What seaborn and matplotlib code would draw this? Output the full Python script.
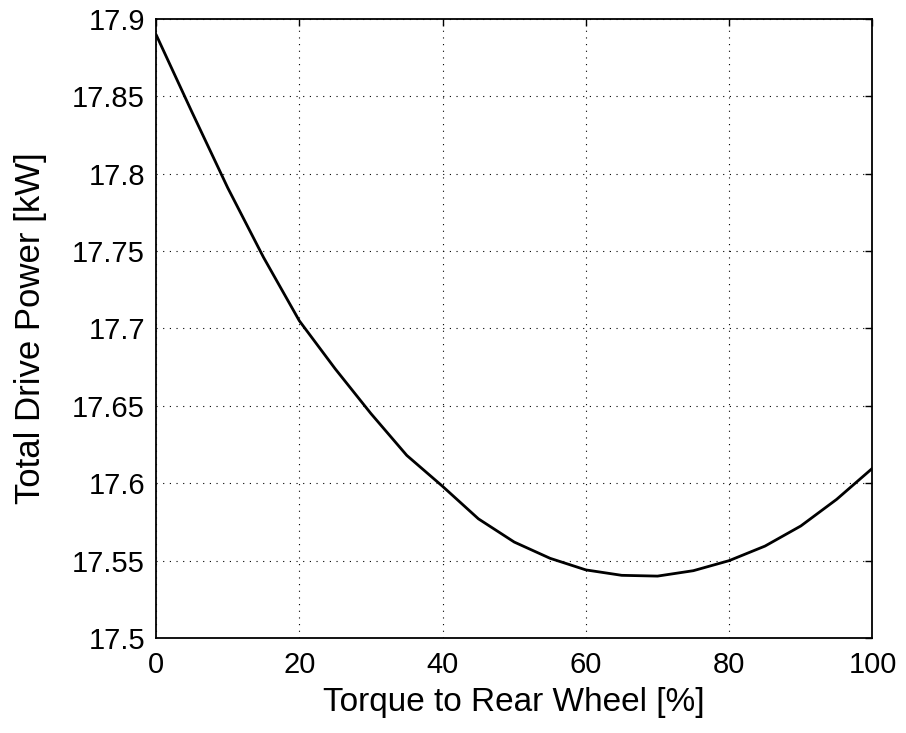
import pandas as pd
import matplotlib
matplotlib.use('Agg')
import matplotlib.pyplot as plt
import seaborn as sns

# torque split to rear wheel [%] and resulting total drive power [kW]
torque_rear = [0, 5, 10, 15, 20, 25, 30, 35, 40, 45, 50,
               55, 60, 65, 70, 75, 80, 85, 90, 95, 100]
drive_power = [17.890, 17.840, 17.791, 17.746, 17.705, 17.674, 17.645,
               17.618, 17.598, 17.577, 17.562, 17.5515, 17.544, 17.5405,
               17.540, 17.5435, 17.550, 17.5594, 17.5724, 17.5896, 17.6097]

x_ticks = [0, 20, 40, 60, 80, 100]
y_ticks = [17.5, 17.55, 17.6, 17.65, 17.7, 17.75, 17.8, 17.85, 17.9]

df = pd.DataFrame({'torque': torque_rear, 'power': drive_power})

sns.set_style('white')
plt.rcParams['font.family'] = ['Liberation Sans', 'DejaVu Sans']
plt.rcParams['text.color'] = 'black'
plt.rcParams['axes.labelcolor'] = 'black'

fig = plt.figure(figsize=(9.06, 7.33), dpi=100)
ax = fig.add_axes([0.1722, 0.1296, 0.7908, 0.8445])

sns.lineplot(data=df, x='torque', y='power', color='black', linewidth=2.0, ax=ax)

ax.set_xlim(0, 100)
ax.set_ylim(17.5, 17.9)
ax.set_xticks(x_ticks)
ax.set_yticks(y_ticks)
ax.set_yticklabels([f'{v:g}' for v in y_ticks])
ax.tick_params(direction='in', length=5, width=1, labelsize=21,
               top=True, right=True, colors='black')
ax.tick_params(axis='x', pad=9)
ax.tick_params(axis='y', pad=8)
ax.grid(True, color='black', linestyle=(0, (1, 5)), linewidth=0.8)
for s in ax.spines.values():
    s.set_color('black')
    s.set_linewidth(1.3)

ax.set_xlabel('Torque to Rear Wheel [%]', fontsize=24, labelpad=6, color='black')
ax.set_ylabel('Total Drive Power [kW]', fontsize=25, labelpad=18, color='black')

fig.savefig('out.png', dpi=100)
